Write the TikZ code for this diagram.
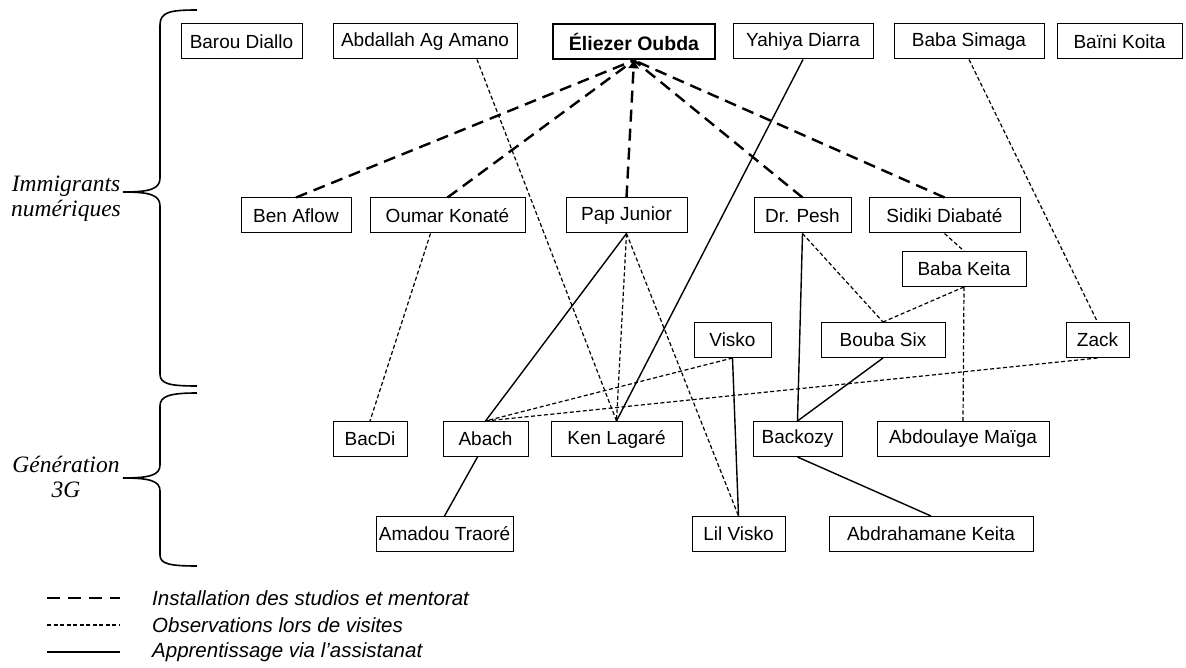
\documentclass[tikz,border=0pt]{standalone}
\usepackage{fontspec}
\setmainfont{Liberation Sans}
\newfontfamily\serifface{Liberation Serif}
\usetikzlibrary{arrows.meta}
\begin{document}
\begin{tikzpicture}[x=1pt,y=-1pt,
  box/.style={draw, line width=1pt, minimum height=35pt, inner sep=0pt, font=\fontsize{19}{22}\selectfont},
  mentor/.style={line width=2.4pt, dash pattern=on 12pt off 7pt},
  obs/.style={line width=1.2pt, dash pattern=on 4pt off 2.5pt},
  appr/.style={line width=1.4pt},
  brace/.style={line width=1.6pt},
  grp/.style={font=\serifface\itshape\fontsize{23.5}{25}\selectfont, align=center, inner sep=0pt},
  leg/.style={font=\itshape\fontsize{20.5}{24}\selectfont, anchor=west, inner sep=0pt}
]
\useasboundingbox (0,0) rectangle (1186,668);

% top row
\node[box, minimum width=121pt] (barou) at (241.5,41.5) {Barou Diallo};
\node[box, minimum width=184pt] (abdallah) at (425,41.5) {Abdallah Ag Amano};
\node[box, minimum width=162pt, line width=2.6pt, font=\bfseries\fontsize{19.5}{23}\selectfont] (eliezer) at (634,41.5) {Éliezer Oubda};
\node[box, minimum width=140pt] (yahiya) at (803,41.5) {Yahiya Diarra};
\node[box, minimum width=150pt] (simaga) at (969,41.5) {Baba Simaga};
\node[box, minimum width=125pt] (baini) at (1119.5,41.5) {Baïni Koita};

% second row
\node[box, minimum width=110pt] (benaflow) at (296,215.5) {Ben Aflow};
\node[box, minimum width=155pt] (oumar) at (447.5,215.5) {Oumar Konaté};
\node[box, minimum width=121pt] (pap) at (626.5,215.5) {Pap Junior};
\node[box, minimum width=97pt] (pesh) at (802.5,215.5) {Dr. Pesh};
\node[box, minimum width=151pt] (sidiki) at (944.5,215.5) {Sidiki Diabaté};
\node[box, minimum width=124pt] (babakeita) at (964,269) {Baba Keita};

% third row
\node[box, minimum width=77pt] (visko) at (732.5,340) {Visko};
\node[box, minimum width=124pt] (bouba) at (883,340) {Bouba Six};
\node[box, minimum width=63pt] (zack) at (1097.5,340) {Zack};

% fourth row
\node[box, minimum width=74pt] (bacdi) at (370,439) {BacDi};
\node[box, minimum width=85pt] (abach) at (485.5,439) {Abach};
\node[box, minimum width=131pt] (ken) at (616.5,439) {Ken Lagaré};
\node[box, minimum width=89pt] (backozy) at (797.5,439) {Backozy};
\node[box, minimum width=172pt] (abdoulaye) at (963,439) {Abdoulaye Maïga};

% fifth row
\node[box, minimum width=137pt] (amadou) at (444.5,534) {Amadou Traoré};
\node[box, minimum width=93pt] (lilvisko) at (738.5,534) {Lil Visko};
\node[box, minimum width=204pt] (abdrahamane) at (931,534) {Abdrahamane Keita};

% installation & mentorat
\draw[mentor] (benaflow.north) -- (eliezer.south);
\draw[mentor] (oumar.north) -- (eliezer.south);
\draw[mentor, -{Triangle[length=8pt,width=10pt]}] (pap.north) -- (eliezer.south);
\draw[mentor] (pesh.north) -- (eliezer.south);
\draw[mentor] (sidiki.north) -- (eliezer.south);

% observations
\draw[obs] ([xshift=52pt]abdallah.south) -- (ken.north);
\draw[obs] ([xshift=-17pt]oumar.south) -- (bacdi.north);
\draw[obs] (pap.south) -- (ken.north);
\draw[obs] (pap.south) -- (lilvisko.north);
\draw[obs] (simaga.south) -- (zack.north);
\draw[obs] (pesh.south) -- (bouba.north);
\draw[obs] (sidiki.south) -- (babakeita.north);
\draw[obs] (babakeita.south) -- (bouba.north);
\draw[obs] (babakeita.south) -- (abdoulaye.north);
\draw[obs] (visko.south) -- (abach.north);
\draw[obs] (zack.south) -- (abach.north);

% apprentissage
\draw[appr] (pap.south) -- (abach.north);
\draw[appr] (yahiya.south) -- (ken.north);
\draw[appr] (pesh.south) -- (backozy.north);
\draw[appr] (bouba.south) -- (backozy.north);
\draw[appr] (visko.south) -- (lilvisko.north);
\draw[appr] ([xshift=-8pt]abach.south) -- (amadou.north);
\draw[appr] (backozy.south) -- (abdrahamane.north);

% braces
\draw[brace] (197,10) .. controls (170,10) and (160,12) .. (160,25) -- (160,178)
  .. controls (160,189) and (150,192) .. (123,192)
  .. controls (150,192) and (160,195) .. (160,206) -- (160,374)
  .. controls (160,384) and (170,386) .. (197,386);
\draw[brace] (197,393) .. controls (170,393) and (160,396) .. (160,406) -- (160,465)
  .. controls (160,475) and (150,478) .. (123,478)
  .. controls (150,478) and (160,481) .. (160,491) -- (160,555)
  .. controls (160,564) and (170,566) .. (197,566);
\node[grp] (imm) at (66,199) {Immigrants\\numériques};
\node[grp] (gen) at (66,477) {Génération\\3G};

% legend
\coordinate (l1a) at (47,598); \coordinate (l1b) at (120,598);
\coordinate (l2a) at (47,625); \coordinate (l2b) at (120,625);
\coordinate (l3a) at (47,652); \coordinate (l3b) at (120,652);
\draw[mentor, dash pattern=on 13pt off 8pt] (l1a) -- (l1b);
\draw[obs] (l2a) -- (l2b);
\draw[appr] (l3a) -- (l3b);
\node[leg] (t1) at (152,598) {Installation des studios et mentorat};
\node[leg] (t2) at (152,625) {Observations lors de visites};
\node[leg] (t3) at (152,652) {Apprentissage via l’assistanat};
\end{tikzpicture}
\end{document}
